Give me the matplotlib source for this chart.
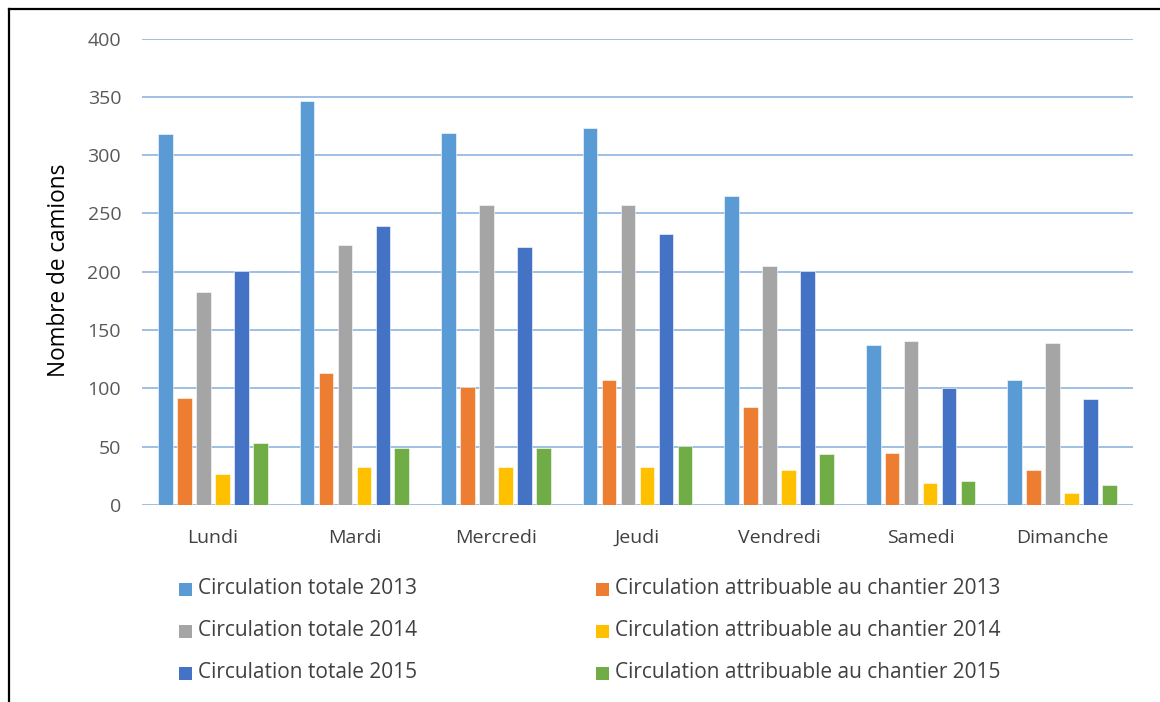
import matplotlib
matplotlib.use("Agg")
import matplotlib.pyplot as plt
import numpy as np
from matplotlib.patches import Rectangle
from matplotlib.lines import Line2D

days = ["Lundi", "Mardi", "Mercredi", "Jeudi", "Vendredi", "Samedi", "Dimanche"]

total_2013 = [318, 346, 319, 323, 265, 137, 107]
chantier_2013 = [92, 113, 101, 107, 84, 45, 30]
total_2014 = [183, 223, 257, 257, 205, 141, 139]
chantier_2014 = [27, 33, 33, 33, 30, 19, 10]
total_2015 = [201, 239, 221, 232, 201, 100, 91]
chantier_2015 = [53, 49, 49, 51, 44, 21, 17]

series_names = [
    "Circulation totale 2013",
    "Circulation attribuable au chantier 2013",
    "Circulation totale 2014",
    "Circulation attribuable au chantier 2014",
    "Circulation totale 2015",
    "Circulation attribuable au chantier 2015",
]
series_values = [total_2013, chantier_2013, total_2014, chantier_2014, total_2015, chantier_2015]
series_colors = ["#5B9BD5", "#ED7D31", "#A5A5A5", "#FFC000", "#4472C4", "#70AD47"]

y_ticks = [0, 50, 100, 150, 200, 250, 300, 350, 400]
y_label = "Nombre de camions"

plt.rcParams["font.family"] = ["Open Sans", "DejaVu Sans"]

W, H = 1160, 702
fig = plt.figure(figsize=(W / 100, H / 100), dpi=100)
ax = fig.add_axes([142 / W, 1 - 505 / H, (1133 - 142) / W, (505 - 38.5) / H])

x = np.arange(len(days))
pitch = 0.134
width = 0.103
offsets = (np.arange(len(series_values)) - (len(series_values) - 1) / 2) * pitch
for vals, col, off, name in zip(series_values, series_colors, offsets, series_names):
    ax.bar(x + off, vals, width=width, color=col, edgecolor="white",
           linewidth=0.4, zorder=3, label=name)

ax.set_xlim(-0.5, len(days) - 0.5)
ax.set_ylim(0, 400)
ax.set_yticks(y_ticks)
ax.set_yticklabels([str(t) for t in y_ticks], color="#595959", fontsize=14)
ax.set_xticks(x)
ax.set_xticklabels(days, color="#404040", fontsize=14)
ax.tick_params(axis="both", length=0)
ax.tick_params(axis="y", pad=15)
ax.tick_params(axis="x", pad=17)

grid_col = "#8DB4E2"
for t in y_ticks:
    ax.axhline(t, color=grid_col, linewidth=1.2, zorder=1)
for s in ax.spines.values():
    s.set_visible(False)

fig.text(59 / W, 1 - 270 / H, y_label, rotation=90, ha="center", va="center",
         fontsize=16.3, color="black")

# legend laid out in two columns, three rows
col_x = [179, 596]
row_y = [589, 631, 673]
sq = 13
for i, (name, col) in enumerate(zip(series_names, series_colors)):
    cx = col_x[i % 2]
    cy = row_y[i // 2]
    fig.add_artist(Rectangle((cx / W, 1 - (cy + sq / 2) / H), sq / W, sq / H,
                             transform=fig.transFigure, facecolor=col,
                             edgecolor="none"))
    fig.text((cx + sq + 6) / W, 1 - cy / H, name, ha="left", va="center",
             fontsize=15, color="#404040")

# frame lines along the top and left edges
fig.add_artist(Line2D([9 / W, 1.0], [1 - 9 / H, 1 - 9 / H], color="black",
                      linewidth=1.6, transform=fig.transFigure))
fig.add_artist(Line2D([9 / W, 9 / W], [1 - 9 / H, 0.0], color="black",
                      linewidth=1.6, transform=fig.transFigure))

fig.savefig("out.png", dpi=100, facecolor="white")
